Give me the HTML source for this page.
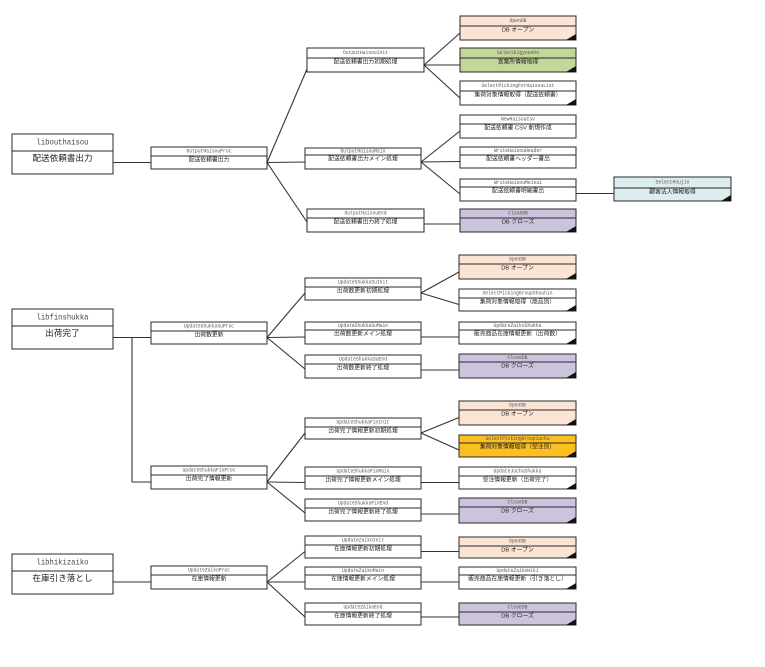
<!DOCTYPE html>
<html>
<head>
<meta charset="utf-8">
<style>
html,body{margin:0;padding:0;background:#fff;}
svg{display:block;}
.en{font-family:"Liberation Mono",monospace;font-size:5px;fill:#555;text-anchor:middle;dominant-baseline:central;}
.ja{font-family:"Liberation Sans","Noto Sans CJK JP",sans-serif;font-size:5.8px;fill:#222;text-anchor:middle;dominant-baseline:central;}
.enb{font-family:"Liberation Mono",monospace;font-size:8.5px;fill:#444;text-anchor:middle;dominant-baseline:central;}
.jab{font-family:"Liberation Sans","Noto Sans CJK JP",sans-serif;font-size:8.6px;fill:#222;text-anchor:middle;dominant-baseline:central;}
.b{stroke:#2a2a2a;stroke-width:1;}
.c{stroke:#333;stroke-width:1.1;fill:none;}
.t{fill:#111;}
</style>
</head>
<body>
<svg width="765" height="667" viewBox="0 0 765 667" xmlns="http://www.w3.org/2000/svg">
<rect x="0" y="0" width="765" height="667" fill="#fff"/>

<!-- ================= CONNECTORS ================= -->
<g class="c">
<!-- section 1 -->
<line x1="113" y1="162.5" x2="151" y2="162.5"/>
<line x1="267" y1="162.5" x2="307" y2="69"/>
<line x1="267" y1="162.5" x2="305" y2="162"/>
<line x1="267" y1="162.5" x2="307" y2="222"/>
<line x1="424" y1="65" x2="460" y2="33"/>
<line x1="424" y1="65" x2="460" y2="65"/>
<line x1="424" y1="65" x2="460" y2="98"/>
<line x1="421" y1="162" x2="460" y2="131"/>
<line x1="421" y1="162" x2="460" y2="161.5"/>
<line x1="421" y1="162" x2="460" y2="194"/>
<line x1="424" y1="224" x2="460" y2="224"/>
<line x1="576" y1="193.5" x2="614" y2="193.5"/>
<!-- section 2 -->
<line x1="113" y1="337.5" x2="151" y2="337.5"/>
<line x1="132" y1="337.5" x2="132" y2="482"/>
<line x1="132" y1="482" x2="151" y2="482"/>
<line x1="267" y1="337.5" x2="305" y2="293"/>
<line x1="267" y1="337.5" x2="305" y2="337"/>
<line x1="267" y1="337.5" x2="305" y2="369"/>
<line x1="421" y1="293" x2="459" y2="272"/>
<line x1="421" y1="293" x2="459" y2="304.5"/>
<line x1="421" y1="337" x2="459" y2="337"/>
<line x1="421" y1="370" x2="459" y2="370"/>
<line x1="267" y1="482" x2="305" y2="433"/>
<line x1="267" y1="482" x2="305" y2="482.5"/>
<line x1="267" y1="482" x2="305" y2="513"/>
<line x1="421" y1="433" x2="459" y2="417.5"/>
<line x1="421" y1="433" x2="459" y2="450"/>
<line x1="421" y1="482.5" x2="459" y2="482.5"/>
<line x1="421" y1="514" x2="459" y2="514"/>
<!-- section 3 -->
<line x1="113" y1="582" x2="151" y2="582"/>
<line x1="267" y1="582" x2="305" y2="551.5"/>
<line x1="267" y1="582" x2="305" y2="582"/>
<line x1="267" y1="582" x2="305" y2="617"/>
<line x1="421" y1="551.5" x2="459" y2="551.5"/>
<line x1="421" y1="582" x2="459" y2="582"/>
<line x1="421" y1="617" x2="459" y2="617"/>
</g>

<!-- ================= SECTION 1 ================= -->
<!-- libouthaisou -->
<rect class="b" x="12" y="134" width="101" height="40" fill="#fff"/>
<line class="b" x1="12" y1="151" x2="113" y2="151"/>
<text class="enb" x="62.5" y="142.5" textLength="52" lengthAdjust="spacingAndGlyphs">libouthaisou</text>
<text class="jab" x="62.5" y="158">配送依頼書出力</text>

<!-- OutputHaisouProc -->
<rect class="b" x="151" y="147" width="116" height="22" fill="#fff"/>
<line class="b" x1="151" y1="156" x2="267" y2="156"/>
<text class="en" x="209" y="151.5" textLength="45" lengthAdjust="spacingAndGlyphs">OutputHaisouProc</text>
<text class="ja" x="209" y="160.5">配送依頼書出力</text>

<!-- OutputHaisouInit -->
<rect class="b" x="307" y="48" width="117" height="24" fill="#fff"/>
<line class="b" x1="307" y1="58" x2="424" y2="58"/>
<text class="en" x="365.5" y="53" textLength="45" lengthAdjust="spacingAndGlyphs">OutputHaisouInit</text>
<text class="ja" x="365.5" y="62.5">配送依頼書出力初期処理</text>

<!-- OutputHaisouMain -->
<rect class="b" x="305" y="148" width="116" height="21" fill="#fff"/>
<line class="b" x1="305" y1="155" x2="421" y2="155"/>
<text class="en" x="363" y="151.5" textLength="45" lengthAdjust="spacingAndGlyphs">OutputHaisouMain</text>
<text class="ja" x="363" y="159.5">配送依頼書出力メイン処理</text>

<!-- OutputHaisouEnd -->
<rect class="b" x="307" y="209" width="117" height="23" fill="#fff"/>
<line class="b" x1="307" y1="218" x2="424" y2="218"/>
<text class="en" x="365.5" y="213.5" textLength="42" lengthAdjust="spacingAndGlyphs">OutputHaisouEnd</text>
<text class="ja" x="365.5" y="222.5">配送依頼書出力終了処理</text>

<!-- OpenDB 1 -->
<rect class="b" x="460" y="16" width="116" height="24" fill="#fce4d4"/>
<line class="b" x1="460" y1="26" x2="576" y2="26"/>
<polygon class="t" points="566,40 576,34 576,40"/>
<text class="en" x="518" y="21" textLength="17" lengthAdjust="spacingAndGlyphs">OpenDB</text>
<text class="ja" x="518" y="30.5">DB オープン</text>

<!-- SelectEigyousho -->
<rect class="b" x="460" y="48" width="116" height="24" fill="#c4d79b"/>
<line class="b" x1="460" y1="58" x2="576" y2="58"/>
<polygon class="t" points="566,72 576,66 576,72"/>
<text class="en" x="518" y="53" textLength="42" lengthAdjust="spacingAndGlyphs">SelectEigyousho</text>
<text class="ja" x="518" y="62.5">営業所情報取得</text>

<!-- SelectPickingForHaisouList -->
<rect class="b" x="460" y="81" width="116" height="24" fill="#fff"/>
<line class="b" x1="460" y1="91" x2="576" y2="91"/>
<polygon class="t" points="566,105 576,99 576,105"/>
<text class="en" x="518" y="86" textLength="73" lengthAdjust="spacingAndGlyphs">SelectPickingForHaisouList</text>
<text class="ja" x="518" y="95.5">集荷対象情報取得（配送依頼書）</text>

<!-- NewHaisouCsv -->
<rect class="b" x="460" y="115" width="116" height="23" fill="#fff"/>
<line class="b" x1="460" y1="124" x2="576" y2="124"/>
<text class="en" x="518" y="119.5" textLength="34" lengthAdjust="spacingAndGlyphs">NewHaisouCsv</text>
<text class="ja" x="518" y="128.5">配送依頼書 CSV 新規作成</text>

<!-- WriteHaisouHeader -->
<rect class="b" x="460" y="147" width="116" height="21" fill="#fff"/>
<line class="b" x1="460" y1="155" x2="576" y2="155"/>
<text class="en" x="518" y="151" textLength="48" lengthAdjust="spacingAndGlyphs">WriteHaisouHeader</text>
<text class="ja" x="518" y="159.5">配送依頼書ヘッダー書出</text>

<!-- WriteHaisouMeisai -->
<rect class="b" x="460" y="179" width="116" height="22" fill="#fff"/>
<line class="b" x1="460" y1="187" x2="576" y2="187"/>
<text class="en" x="518" y="183" textLength="48" lengthAdjust="spacingAndGlyphs">WriteHaisouMeisai</text>
<text class="ja" x="518" y="191.5">配送依頼書明細書出</text>

<!-- CloseDB 1 -->
<rect class="b" x="460" y="209" width="116" height="23" fill="#ccc3dc"/>
<line class="b" x1="460" y1="218" x2="576" y2="218"/>
<polygon class="t" points="566,232 576,226 576,232"/>
<text class="en" x="518" y="213.5" textLength="20" lengthAdjust="spacingAndGlyphs">CloseDB</text>
<text class="ja" x="518" y="222.5">DB クローズ</text>

<!-- SelectHoujin -->
<rect class="b" x="614" y="177" width="117" height="24" fill="#dcecef"/>
<line class="b" x1="614" y1="188" x2="731" y2="188"/>
<polygon class="t" points="721,201 731,195 731,201"/>
<text class="en" x="672.5" y="182.5" textLength="34" lengthAdjust="spacingAndGlyphs">SelectHoujin</text>
<text class="ja" x="672.5" y="192.5">顧客法人情報取得</text>

<!-- ================= SECTION 2 ================= -->
<rect class="b" x="12" y="309" width="101" height="40" fill="#fff"/>
<line class="b" x1="12" y1="326" x2="113" y2="326"/>
<text class="enb" x="62.5" y="317.5" textLength="52" lengthAdjust="spacingAndGlyphs">libfinshukka</text>
<text class="jab" x="62.5" y="333">出荷完了</text>

<!-- UpdateShukkaSuProc -->
<rect class="b" x="151" y="322" width="116" height="22" fill="#fff"/>
<line class="b" x1="151" y1="331" x2="267" y2="331"/>
<text class="en" x="209" y="326.5" textLength="50" lengthAdjust="spacingAndGlyphs">UpdateShukkaSuProc</text>
<text class="ja" x="209" y="335.5">出荷数更新</text>

<!-- UpdateShukkaFinProc -->
<rect class="b" x="151" y="466" width="116" height="23" fill="#fff"/>
<line class="b" x1="151" y1="475" x2="267" y2="475"/>
<text class="en" x="209" y="470.5" textLength="53" lengthAdjust="spacingAndGlyphs">UpdateShukkaFinProc</text>
<text class="ja" x="209" y="479.5">出荷完了情報更新</text>

<!-- UpdateShukkaSuInit -->
<rect class="b" x="305" y="278" width="116" height="22" fill="#fff"/>
<line class="b" x1="305" y1="287" x2="421" y2="287"/>
<text class="en" x="363" y="282.5" textLength="50" lengthAdjust="spacingAndGlyphs">UpdateShukkaSuInit</text>
<text class="ja" x="363" y="291.5">出荷数更新初期処理</text>

<!-- UpdateShukkaSuMain -->
<rect class="b" x="305" y="322" width="116" height="22" fill="#fff"/>
<line class="b" x1="305" y1="330" x2="421" y2="330"/>
<text class="en" x="363" y="326" textLength="50" lengthAdjust="spacingAndGlyphs">UpdateShukkaSuMain</text>
<text class="ja" x="363" y="334.5">出荷数更新メイン処理</text>

<!-- UpdateShukkaSuEnd -->
<rect class="b" x="305" y="355" width="116" height="23" fill="#fff"/>
<line class="b" x1="305" y1="364" x2="421" y2="364"/>
<text class="en" x="363" y="359.5" textLength="48" lengthAdjust="spacingAndGlyphs">UpdateShukkaSuEnd</text>
<text class="ja" x="363" y="368.5">出荷数更新終了処理</text>

<!-- OpenDB 2 -->
<rect class="b" x="459" y="255" width="117" height="24" fill="#fce4d4"/>
<line class="b" x1="459" y1="264" x2="576" y2="264"/>
<polygon class="t" points="566,279 576,273 576,279"/>
<text class="en" x="517.5" y="259.5" textLength="17" lengthAdjust="spacingAndGlyphs">OpenDB</text>
<text class="ja" x="517.5" y="268.5">DB オープン</text>

<!-- SelectPickingGroupShouhin -->
<rect class="b" x="459" y="289" width="117" height="22" fill="#fff"/>
<line class="b" x1="459" y1="298" x2="576" y2="298"/>
<polygon class="t" points="566,311 576,305 576,311"/>
<text class="en" x="517.5" y="293.5" textLength="70" lengthAdjust="spacingAndGlyphs">SelectPickingGroupShouhin</text>
<text class="ja" x="517.5" y="302.5">集荷対象情報取得（商品別）</text>

<!-- UpdateZaikoShukka -->
<rect class="b" x="459" y="322" width="117" height="22" fill="#fff"/>
<line class="b" x1="459" y1="330" x2="576" y2="330"/>
<polygon class="t" points="566,344 576,338 576,344"/>
<text class="en" x="517.5" y="326" textLength="48" lengthAdjust="spacingAndGlyphs">UpdateZaikoShukka</text>
<text class="ja" x="517.5" y="334.5">販売商品在庫情報更新（出荷数）</text>

<!-- CloseDB 2 -->
<rect class="b" x="459" y="354" width="117" height="24" fill="#ccc3dc"/>
<line class="b" x1="459" y1="362" x2="576" y2="362"/>
<polygon class="t" points="566,378 576,372 576,378"/>
<text class="en" x="517.5" y="358" textLength="20" lengthAdjust="spacingAndGlyphs">CloseDB</text>
<text class="ja" x="517.5" y="366.5">DB クローズ</text>

<!-- UpdateShukkaFinInit -->
<rect class="b" x="305" y="418" width="116" height="21" fill="#fff"/>
<line class="b" x1="305" y1="427" x2="421" y2="427"/>
<text class="en" x="363" y="422.5" textLength="53" lengthAdjust="spacingAndGlyphs">UpdateShukkaFinInit</text>
<text class="ja" x="363" y="431.5">出荷完了情報更新初期処理</text>

<!-- UpdateShukkaFinMain -->
<rect class="b" x="305" y="467" width="116" height="22" fill="#fff"/>
<line class="b" x1="305" y1="476" x2="421" y2="476"/>
<text class="en" x="363" y="471.5" textLength="53" lengthAdjust="spacingAndGlyphs">UpdateShukkaFinMain</text>
<text class="ja" x="363" y="480.5">出荷完了情報更新メイン処理</text>

<!-- UpdateShukkaFinEnd -->
<rect class="b" x="305" y="499" width="116" height="22" fill="#fff"/>
<line class="b" x1="305" y1="508" x2="421" y2="508"/>
<text class="en" x="363" y="503.5" textLength="50" lengthAdjust="spacingAndGlyphs">UpdateShukkaFinEnd</text>
<text class="ja" x="363" y="512.5">出荷完了情報更新終了処理</text>

<!-- OpenDB 3 -->
<rect class="b" x="459" y="401" width="117" height="24" fill="#fce4d4"/>
<line class="b" x1="459" y1="410" x2="576" y2="410"/>
<polygon class="t" points="566,425 576,419 576,425"/>
<text class="en" x="517.5" y="405.5" textLength="17" lengthAdjust="spacingAndGlyphs">OpenDB</text>
<text class="ja" x="517.5" y="414.5">DB オープン</text>

<!-- SelectPickingGroupJuchu -->
<rect class="b" x="459" y="435" width="117" height="22" fill="#fcbf22"/>
<line class="b" x1="459" y1="443" x2="576" y2="443"/>
<polygon class="t" points="566,457 576,451 576,457"/>
<text class="en" x="517.5" y="439" textLength="64" lengthAdjust="spacingAndGlyphs">SelectPickingGroupJuchu</text>
<text class="ja" x="517.5" y="447.5">集荷対象情報取得（受注別）</text>

<!-- UpdateJuchuShukka -->
<rect class="b" x="459" y="467" width="117" height="22" fill="#fff"/>
<line class="b" x1="459" y1="476" x2="576" y2="476"/>
<polygon class="t" points="566,489 576,483 576,489"/>
<text class="en" x="517.5" y="471.5" textLength="48" lengthAdjust="spacingAndGlyphs">UpdateJuchuShukka</text>
<text class="ja" x="517.5" y="480.5">受注情報更新（出荷完了）</text>

<!-- CloseDB 3 -->
<rect class="b" x="459" y="498" width="117" height="25" fill="#ccc3dc"/>
<line class="b" x1="459" y1="507" x2="576" y2="507"/>
<polygon class="t" points="566,523 576,517 576,523"/>
<text class="en" x="517.5" y="502.5" textLength="20" lengthAdjust="spacingAndGlyphs">CloseDB</text>
<text class="ja" x="517.5" y="511.5">DB クローズ</text>

<!-- ================= SECTION 3 ================= -->
<rect class="b" x="12" y="554" width="101" height="40" fill="#fff"/>
<line class="b" x1="12" y1="571" x2="113" y2="571"/>
<text class="enb" x="62.5" y="562.5" textLength="52" lengthAdjust="spacingAndGlyphs">libhikizaiko</text>
<text class="jab" x="62.5" y="578">在庫引き落とし</text>

<!-- UpdateZaikoProc -->
<rect class="b" x="151" y="566" width="116" height="23" fill="#fff"/>
<line class="b" x1="151" y1="575" x2="267" y2="575"/>
<text class="en" x="209" y="570.5" textLength="42" lengthAdjust="spacingAndGlyphs">UpdateZaikoProc</text>
<text class="ja" x="209" y="579.5">在庫情報更新</text>

<!-- UpdateZaikoInit -->
<rect class="b" x="305" y="536" width="116" height="22" fill="#fff"/>
<line class="b" x1="305" y1="545" x2="421" y2="545"/>
<text class="en" x="363" y="540.5" textLength="42" lengthAdjust="spacingAndGlyphs">UpdateZaikoInit</text>
<text class="ja" x="363" y="549.5">在庫情報更新初期処理</text>

<!-- UpdateZaikoMain -->
<rect class="b" x="305" y="567" width="116" height="22" fill="#fff"/>
<line class="b" x1="305" y1="575" x2="421" y2="575"/>
<text class="en" x="363" y="571" textLength="42" lengthAdjust="spacingAndGlyphs">UpdateZaikoMain</text>
<text class="ja" x="363" y="579.5">在庫情報更新メイン処理</text>

<!-- UpdateZaikoEnd -->
<rect class="b" x="305" y="603" width="116" height="22" fill="#fff"/>
<line class="b" x1="305" y1="612" x2="421" y2="612"/>
<text class="en" x="363" y="607.5" textLength="39" lengthAdjust="spacingAndGlyphs">UpdateZaikoEnd</text>
<text class="ja" x="363" y="616.5">在庫情報更新終了処理</text>

<!-- OpenDB 4 -->
<rect class="b" x="459" y="537" width="117" height="21" fill="#fce4d4"/>
<line class="b" x1="459" y1="546" x2="576" y2="546"/>
<polygon class="t" points="566,558 576,552 576,558"/>
<text class="en" x="517.5" y="541.5" textLength="17" lengthAdjust="spacingAndGlyphs">OpenDB</text>
<text class="ja" x="517.5" y="550.5">DB オープン</text>

<!-- UpdateZaikoHiki -->
<rect class="b" x="459" y="567" width="117" height="22" fill="#fff"/>
<line class="b" x1="459" y1="575" x2="576" y2="575"/>
<polygon class="t" points="566,589 576,583 576,589"/>
<text class="en" x="517.5" y="571" textLength="42" lengthAdjust="spacingAndGlyphs">UpdateZaikoHiki</text>
<text class="ja" x="517.5" y="579.5">販売商品在庫情報更新（引き落とし）</text>

<!-- CloseDB 4 -->
<rect class="b" x="459" y="603" width="117" height="22" fill="#ccc3dc"/>
<line class="b" x1="459" y1="612" x2="576" y2="612"/>
<polygon class="t" points="566,625 576,619 576,625"/>
<text class="en" x="517.5" y="607.5" textLength="20" lengthAdjust="spacingAndGlyphs">CloseDB</text>
<text class="ja" x="517.5" y="616.5">DB クローズ</text>

</svg>
</body>
</html>
